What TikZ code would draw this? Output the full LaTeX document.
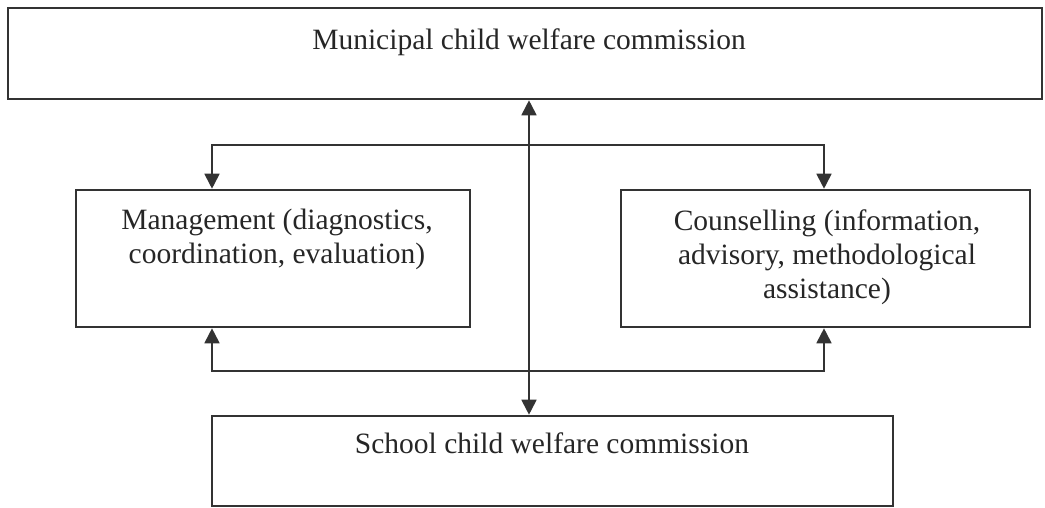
\documentclass[tikz,border=0pt]{standalone}
\usepackage{fontspec}
\setmainfont{Liberation Serif}
\usetikzlibrary{arrows.meta}
\tikzset{
  box/.style={draw=black!80, line width=2.6pt, rectangle, inner sep=0pt},
  label/.style={align=center, font=\fontsize{29.5}{34}\selectfont, text=black!85},
  link/.style={draw=black!80, line width=1.8pt, {Triangle[width=15pt,length=15pt]}-{Triangle[width=15pt,length=15pt]}}
}
\begin{document}
\begin{tikzpicture}[x=1pt,y=1pt]
  \useasboundingbox (0,0) rectangle (1045,-507);
  % boxes
  \draw
    (525,-53.5) node[box, minimum width=1034pt, minimum height=91pt] (municipal){}
    (273,-258.5) node[box, minimum width=394pt, minimum height=137pt] (management){}
    (825.5,-258.5) node[box, minimum width=409pt, minimum height=137pt] (counselling){}
    (552.5,-461) node[box, minimum width=681pt, minimum height=90pt] (school){};
  % texts
  \draw
    (529,-42) node[label] (municipaltext){Municipal child welfare commission}
    (277,-239) node[label] (managementtext){Management (diagnostics,\\coordination, evaluation)}
    (827,-257) node[label] (counsellingtext){Counselling (information,\\advisory, methodological\\assistance)}
    (552,-443) node[label] (schooltext){School child welfare commission};
  % turning points
  \coordinate (lx) at (212,0);
  \coordinate (rx) at (824,0);
  \coordinate (mx) at (529,0);
  \coordinate (hi) at (0,-145);
  \coordinate (lo) at (0,-371);
  \begin{scope}[link]
    \draw (municipal.south -| mx) -- (school.north -| mx);
    \draw (management.north -| lx) -- (lx |- hi) -- (rx |- hi) -- (counselling.north -| rx);
    \draw (management.south -| lx) -- (lx |- lo) -- (rx |- lo) -- (counselling.south -| rx);
  \end{scope}
\end{tikzpicture}
\end{document}
